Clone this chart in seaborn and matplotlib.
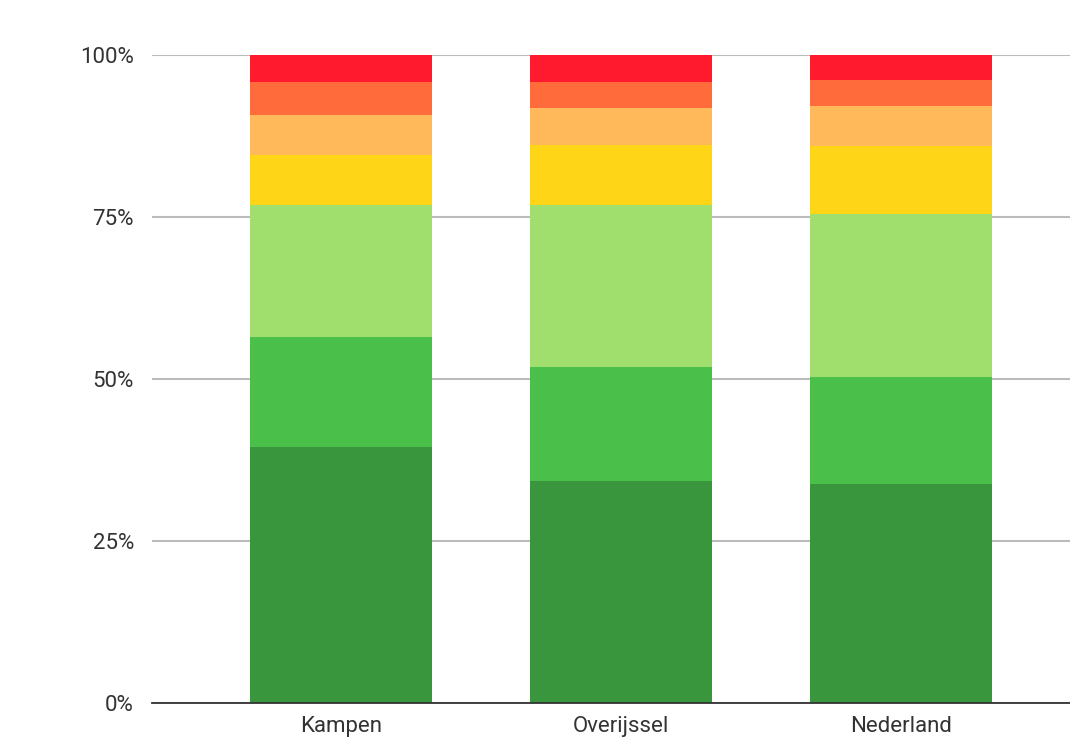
import matplotlib
matplotlib.use("Agg")
import matplotlib.pyplot as plt
import seaborn as sns
import pandas as pd
import numpy as np

regions = ["Kampen", "Overijssel", "Nederland"]
# share per class, bottom to top (percent)
klasse_1 = [39.5, 34.3, 33.8]
klasse_2 = [17.0, 17.6, 16.5]
klasse_3 = [20.4, 25.0, 25.2]
klasse_4 = [7.7, 9.2, 10.5]
klasse_5 = [6.1, 5.7, 6.1]
klasse_6 = [5.1, 4.0, 4.0]
klasse_7 = [4.2, 4.2, 3.9]

layers = [klasse_1, klasse_2, klasse_3, klasse_4, klasse_5, klasse_6, klasse_7]
colors = ["#3a963c", "#4abf4a", "#a0de6e", "#ffd617", "#ffb95a", "#ff6b3a", "#ff1a2d"]

sns.set_style("white")
plt.rcParams["font.family"] = ["Roboto", "DejaVu Sans"]

fig = plt.figure(figsize=(10.7, 7.44), dpi=100)
ax = fig.add_axes([0.142, 0.055, 0.858, 0.871])

bottom = np.zeros(len(regions))
for vals, col in zip(layers, colors):
    df = pd.DataFrame({"regio": regions, "aandeel": np.array(vals) / 100})
    sns.barplot(data=df, x="regio", y="aandeel", color=col, width=0.65,
                bottom=bottom, saturation=1, linewidth=0, ax=ax, zorder=3)
    bottom = bottom + df["aandeel"].values

ax.set_ylim(0, 1)
ax.set_xlim(-0.675, 2.604)
ax.set_yticks([0, 0.25, 0.5, 0.75, 1.0])
ax.set_yticklabels(["0%", "25%", "50%", "75%", "100%"])
ax.yaxis.grid(True, color="#bbbbbb", linewidth=1.5, zorder=0)
ax.set_axisbelow(True)
for s in ["left", "right", "top"]:
    ax.spines[s].set_visible(False)
ax.spines["bottom"].set_color("#333333")
ax.spines["bottom"].set_linewidth(1.3)
ax.spines["bottom"].set_zorder(4)
ax.tick_params(axis="both", length=0, labelsize=16, labelcolor="#333333")
ax.tick_params(axis="y", pad=13)
ax.tick_params(axis="x", pad=9)
ax.set_xlabel("")
ax.set_ylabel("")

fig.savefig("out.png", dpi=100)
